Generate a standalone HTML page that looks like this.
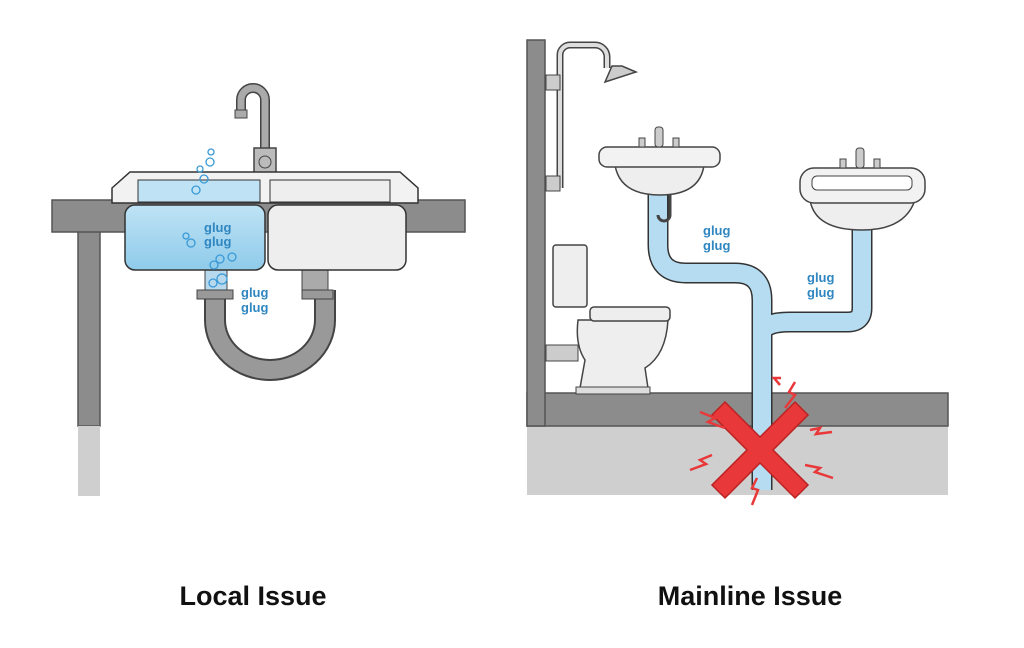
<!DOCTYPE html>
<html><head><style>body{margin:0;background:#fff}svg{display:block}</style></head><body>
<svg width="1024" height="648" viewBox="0 0 1024 648" xmlns="http://www.w3.org/2000/svg" font-family="Liberation Sans, sans-serif">
<defs><linearGradient id="w" x1="0" y1="0" x2="0" y2="1"><stop offset="0" stop-color="#bfe3f5"/><stop offset="1" stop-color="#8fcbea"/></linearGradient></defs>
<!-- LEFT -->
<rect x="78" y="230" width="22" height="196" fill="#8c8c8c" stroke="#555" stroke-width="1.5"/>
<rect x="78" y="426" width="22" height="70" fill="#cfcfcf"/>
<rect x="52" y="200" width="413" height="32" fill="#8c8c8c" stroke="#555" stroke-width="1.5"/>
<!-- faucet -->
<path d="M265 152 V100 a12 12 0 0 0 -24 0 V112" fill="none" stroke="#444" stroke-width="10"/>
<path d="M265 152 V100 a12 12 0 0 0 -24 0 V112" fill="none" stroke="#aaa" stroke-width="7"/>
<rect x="235" y="110" width="12" height="8" fill="#aaa" stroke="#444"/>
<rect x="254" y="148" width="22" height="26" fill="#bbb" stroke="#444" stroke-width="1.5"/>
<circle cx="265" cy="162" r="6" fill="#bbb" stroke="#444"/>
<!-- trap -->
<path d="M215 290 V320 a55 50 0 0 0 110 0 V290" fill="none" stroke="#444" stroke-width="22"/>
<path d="M215 290 V320 a55 50 0 0 0 110 0 V290" fill="none" stroke="#999" stroke-width="18"/>
<rect x="197" y="290" width="36" height="9" fill="#999" stroke="#444"/>
<rect x="302" y="290" width="31" height="9" fill="#999" stroke="#444"/>
<rect x="205" y="268" width="22" height="22" fill="#b8d8ee" stroke="#444"/>
<rect x="302" y="268" width="26" height="22" fill="#aaa" stroke="#444"/>
<!-- sink -->
<rect x="125" y="205" width="140" height="65" rx="10" fill="url(#w)" stroke="#333" stroke-width="1.5"/>
<rect x="268" y="205" width="138" height="65" rx="10" fill="#eee" stroke="#333" stroke-width="1.5"/>
<path d="M112 188 L130 172 H400 L418 188 V203 H112 Z" fill="#f2f2f2" stroke="#333" stroke-width="1.5"/>
<rect x="138" y="180" width="122" height="22" fill="#bfe3f5" stroke="#333"/>
<rect x="270" y="180" width="120" height="22" fill="#eee" stroke="#333"/>
<g fill="none" stroke="#3a9ad6" stroke-width="1.3"><circle cx="211" cy="152" r="3"/><circle cx="210" cy="162" r="4"/><circle cx="200" cy="169" r="3"/><circle cx="204" cy="179" r="4"/><circle cx="196" cy="190" r="4"/><circle cx="186" cy="236" r="3"/><circle cx="191" cy="243" r="4"/><circle cx="232" cy="257" r="4"/><circle cx="220" cy="259" r="4"/><circle cx="214" cy="265" r="4"/><circle cx="222" cy="279" r="5"/><circle cx="213" cy="283" r="4"/></g>
<g fill="#2f86c0" font-size="13" font-weight="bold"><text x="204" y="232">glug</text><text x="204" y="246">glug</text><text x="241" y="297">glug</text><text x="241" y="312">glug</text></g>
<!-- RIGHT -->
<rect x="527" y="425" width="421" height="70" fill="#cfcfcf"/>
<rect x="527" y="393" width="421" height="33" fill="#8c8c8c" stroke="#555" stroke-width="1.5"/>
<rect x="527" y="40" width="18" height="386" fill="#8c8c8c" stroke="#555" stroke-width="1.5"/>
<!-- shower -->
<path d="M560 188 V55 a10 10 0 0 1 10 -10 H595 a12 12 0 0 1 12 12 V68" fill="none" stroke="#444" stroke-width="7"/>
<path d="M560 188 V55 a10 10 0 0 1 10 -10 H595 a12 12 0 0 1 12 12 V68" fill="none" stroke="#ddd" stroke-width="4"/>
<path d="M605 82 L612 66 H622 L636 72 Z" fill="#ccc" stroke="#444" stroke-width="1.5"/>
<rect x="546" y="75" width="14" height="15" fill="#ccc" stroke="#444"/><rect x="546" y="176" width="14" height="15" fill="#ccc" stroke="#444"/>
<!-- toilet -->
<rect x="546" y="345" width="32" height="16" fill="#ccc" stroke="#444"/>
<rect x="553" y="245" width="34" height="62" rx="3" fill="#eee" stroke="#444" stroke-width="1.5"/>
<path d="M578 320 H668 Q666 355 645 368 L648 388 H580 L585 360 Q575 345 578 320 Z" fill="#eee" stroke="#444" stroke-width="1.5"/>
<rect x="576" y="387" width="74" height="7" fill="#ddd" stroke="#444"/>
<rect x="590" y="307" width="80" height="14" rx="4" fill="#eee" stroke="#444" stroke-width="1.5"/>
<!-- pipes -->
<path d="M658 190 V245 Q658 273 686 273 H735 Q762 273 762 300 V490 M762 335 Q762 322 790 322 H848 Q862 322 862 308 V228" fill="none" stroke="#333" stroke-width="21"/>
<path d="M658 190 V245 Q658 273 686 273 H735 Q762 273 762 300 V490 M762 335 Q762 322 790 322 H848 Q862 322 862 308 V228" fill="none" stroke="#b6dcf2" stroke-width="18"/>
<path d="M670 195 V215 a6 6 0 0 1 -12 0" fill="none" stroke="#444" stroke-width="3"/>
<!-- sinks -->
<path d="M615 165 Q620 195 660 195 Q700 195 704 165 Z" fill="#eee" stroke="#444" stroke-width="1.5"/>
<rect x="599" y="147" width="121" height="20" rx="8" fill="#f2f2f2" stroke="#444" stroke-width="1.5"/>
<rect x="655" y="127" width="8" height="20" rx="3" fill="#ccc" stroke="#444"/><rect x="639" y="138" width="6" height="9" fill="#ccc" stroke="#444"/><rect x="673" y="138" width="6" height="9" fill="#ccc" stroke="#444"/>
<path d="M810 200 Q815 230 862 230 Q905 230 915 200 Z" fill="#eee" stroke="#444" stroke-width="1.5"/>
<rect x="800" y="168" width="125" height="35" rx="14" fill="#f2f2f2" stroke="#444" stroke-width="1.5"/>
<rect x="812" y="176" width="100" height="14" rx="5" fill="#fff" stroke="#444"/>
<rect x="856" y="148" width="8" height="20" rx="3" fill="#ccc" stroke="#444"/><rect x="840" y="159" width="6" height="9" fill="#ccc" stroke="#444"/><rect x="874" y="159" width="6" height="9" fill="#ccc" stroke="#444"/>
<g fill="#2f86c0" font-size="13" font-weight="bold"><text x="703" y="235">glug</text><text x="703" y="250">glug</text><text x="807" y="282">glug</text><text x="807" y="297">glug</text></g>
<!-- X -->
<g stroke="#b22" stroke-width="1.5" fill="#e8383a"><path d="M725 402 L760 437 L795 402 L808 415 L773 450 L808 485 L795 498 L760 463 L725 498 L712 485 L747 450 L712 415 Z"/></g>
<g fill="none" stroke="#e8383a" stroke-width="2.5"><path d="M700 412 L715 418 L708 422 L725 428"/><path d="M712 455 L700 460 L706 464 L690 470"/><path d="M795 382 L789 392 L795 395 L785 408"/><path d="M810 430 L820 428 L816 434 L832 432"/><path d="M805 465 L820 468 L815 472 L833 478"/><path d="M757 478 L752 488 L758 490 L752 505"/><path d="M780 385 L774 378 L781 378"/></g>
<text x="253" y="605" text-anchor="middle" font-size="27" font-weight="bold" fill="#111">Local Issue</text>
<text x="750" y="605" text-anchor="middle" font-size="27" font-weight="bold" fill="#111">Mainline Issue</text>
</svg>
</body></html>
